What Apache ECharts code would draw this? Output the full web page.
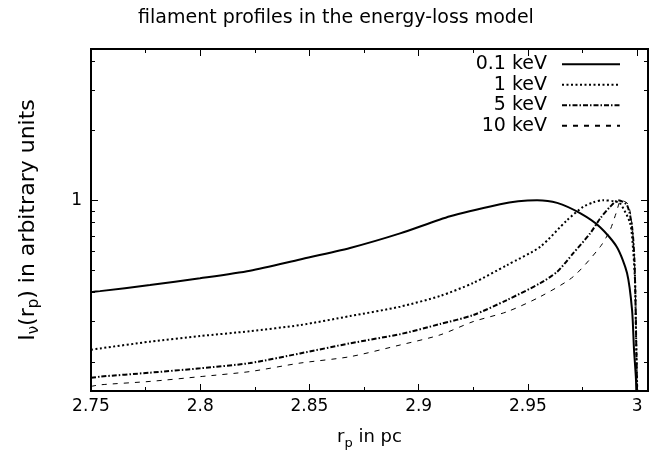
<!DOCTYPE html>
<html>
<head>
<meta charset="utf-8">
<script src="https://cdn.jsdelivr.net/npm/echarts@6/dist/echarts.min.js"></script>
<style>html,body{margin:0;padding:0;background:#fff}#c{width:672px;height:466px}</style>
</head>
<body>
<div id="c"></div>
<script>
// ---- data ----
const seriesNames = ['0.1 keV', '1 keV', '5 keV', '10 keV'];

const x01 = [2.75, 2.7541, 2.777, 2.7999, 2.8228, 2.8457, 2.8686, 2.8915, 2.9144, 2.9373, 2.9456, 2.9542, 2.9634, 2.9739, 2.9831, 2.9908, 2.9954, 2.9977, 2.9986, 2.9995, 2.9998];
const y01 = [0.401, 0.405, 0.430, 0.460, 0.496, 0.555, 0.622, 0.719, 0.853, 0.961, 0.990, 1.0, 0.974, 0.879, 0.765, 0.627, 0.485, 0.336, 0.226, 0.168, 0.12];

const x1 = [2.75, 2.7541, 2.777, 2.7999, 2.8228, 2.8457, 2.8686, 2.8915, 2.9098, 2.9249, 2.9405, 2.9556, 2.9679, 2.9753, 2.9800, 2.9844, 2.9895, 2.9922, 2.9968, 2.9982, 2.9991, 2.9995, 3.0, 3.0002];
const y1 = [0.226, 0.229, 0.245, 0.259, 0.272, 0.289, 0.316, 0.347, 0.386, 0.439, 0.525, 0.629, 0.820, 0.936, 0.98, 1.0, 0.99, 0.971, 0.796, 0.609, 0.439, 0.267, 0.163, 0.12];

const x5 = [2.75, 2.7541, 2.777, 2.7999, 2.8228, 2.8457, 2.8686, 2.8915, 2.9098, 2.9249, 2.9405, 2.9556, 2.9634, 2.9707, 2.9785, 2.9831, 2.9876, 2.9913, 2.9954, 2.9977, 2.9988, 2.9994, 2.9999, 3.0002];
const y5 = [0.171, 0.173, 0.180, 0.188, 0.198, 0.218, 0.241, 0.264, 0.292, 0.319, 0.371, 0.438, 0.491, 0.589, 0.719, 0.834, 0.936, 1.0, 0.952, 0.767, 0.551, 0.314, 0.168, 0.12];

const x10 = [2.75, 2.7541, 2.777, 2.7999, 2.8228, 2.8457, 2.8686, 2.8915, 2.9098, 2.9249, 2.9405, 2.9556, 2.9707, 2.9831, 2.9876, 2.9904, 2.9927, 2.9959, 2.9977, 2.9988, 2.9995, 3.0, 3.0003];
const y10 = [0.157, 0.1595, 0.165, 0.173, 0.182, 0.198, 0.211, 0.237, 0.262, 0.299, 0.330, 0.383, 0.467, 0.629, 0.742, 0.879, 1.0, 0.961, 0.780, 0.551, 0.304, 0.16, 0.12];

const xMajorTicks = [2.75, 2.8, 2.85, 2.9, 2.95, 3.0];
const xMinorTicks = [2.775, 2.825, 2.875, 2.925, 2.975];
const yMajorTicks = [1];
const yMinorTicks = [0.2, 0.3, 0.4, 0.5, 0.6, 0.7, 0.8, 0.9, 2, 3, 4];
const yLabels = [1];

const X_MIN = 2.75, X_MAX = 3.005, Y_MIN = 0.15, Y_MAX = 4.5;

// ---- chart ----
const FONT = 'DejaVu Sans';
const pairs = (xs, ys) => xs.map((x, i) => [x, ys[i]]);

function xAx(pos, ticks, len, labels) {
  return {
    type: 'value', position: pos, min: X_MIN, max: X_MAX,
    axisLine: { show: false, onZero: false },
    splitLine: { show: false },
    axisTick: { show: true, inside: true, length: len, customValues: ticks, lineStyle: { color: '#000', width: 1 } },
    axisLabel: labels ? { show: true, customValues: labels, margin: 7, color: '#000', fontFamily: FONT, fontSize: 17 } : { show: false },
    name: labels ? '{m|r}{s|p}{m| in pc}' : '',
    nameLocation: 'middle', nameGap: 34,
    nameTextStyle: { color: '#000', fontFamily: FONT, rich: {
      m: { fontSize: 18, fontFamily: FONT, color: '#000', lineHeight: 22 },
      s: { fontSize: 13, fontFamily: FONT, color: '#000', padding: [12, 0, 0, 0] }
    } }
  };
}
function yAx(pos, ticks, len, labels) {
  return {
    type: 'log', logBase: 10, position: pos, min: Y_MIN, max: Y_MAX,
    axisLine: { show: false, onZero: false },
    splitLine: { show: false },
    minorTick: { show: false }, minorSplitLine: { show: false },
    axisTick: { show: true, inside: true, length: len, customValues: ticks, lineStyle: { color: '#000', width: 1 } },
    axisLabel: labels ? { show: true, customValues: labels, margin: 9, color: '#000', fontFamily: FONT, fontSize: 17 } : { show: false },
    name: labels ? '{m|I}{s|ν}{m|(r}{s|p}{m|) in arbitrary units}' : '',
    nameLocation: 'middle', nameGap: 49, nameRotate: 90,
    nameTextStyle: { color: '#000', fontFamily: FONT, rich: {
      m: { fontSize: 22, fontFamily: FONT, color: '#000', lineHeight: 27 },
      s: { fontSize: 15, fontFamily: FONT, color: '#000', padding: [13, 0, 0, 0] }
    } }
  };
}

const lineStyles = [
  { color: '#000', width: 2, type: 'solid' },
  { color: '#000', width: 2, type: [2, 2.5] },
  { color: '#000', width: 2, type: [5, 2, 1.5, 2] },
  { color: '#000', width: 1, type: [5, 6] }
];
const dataSets = [pairs(x01, y01), pairs(x1, y1), pairs(x5, y5), pairs(x10, y10)];

const chart = echarts.init(document.getElementById('c'), null, { renderer: 'canvas' });
chart.setOption({
  animation: false,
  backgroundColor: '#fff',
  title: {
    text: 'filament profiles in the energy-loss model',
    left: 'center', top: 4,
    textStyle: { color: '#000', fontFamily: FONT, fontSize: 19, fontWeight: 'normal' }
  },
  grid: { left: 91, right: 24, top: 49, bottom: 75, show: true, borderColor: '#000', borderWidth: 2, backgroundColor: 'transparent' },
  legend: {
    orient: 'vertical', right: 51, top: 54, padding: 0,
    align: 'right', itemWidth: 58, itemHeight: 14, itemGap: 0,
    itemStyle: { color: 'rgba(0,0,0,0)', borderColor: 'rgba(0,0,0,0)', borderWidth: 0, opacity: 0 },
    textStyle: { color: '#000', fontFamily: FONT, fontSize: 19, lineHeight: 20.5, padding: [0, 10, 0, 0] },
    data: seriesNames
  },
  xAxis: [
    xAx('bottom', xMajorTicks, 7, xMajorTicks),
    xAx('bottom', xMinorTicks, 4, null),
    xAx('top', xMajorTicks, 7, null),
    xAx('top', xMinorTicks, 4, null)
  ],
  yAxis: [
    yAx('left', yMajorTicks, 7, yLabels),
    yAx('left', yMinorTicks, 4, null),
    yAx('right', yMajorTicks, 7, null),
    yAx('right', yMinorTicks, 4, null)
  ],
  series: seriesNames.map((n, i) => ({
    name: n, type: 'line', xAxisIndex: 0, yAxisIndex: 0,
    data: dataSets[i], showSymbol: false, symbol: 'none',
    smooth: 0.25,
    clip: true, lineStyle: lineStyles[i], itemStyle: { color: '#000' }
  }))
});
</script>
</body>
</html>
